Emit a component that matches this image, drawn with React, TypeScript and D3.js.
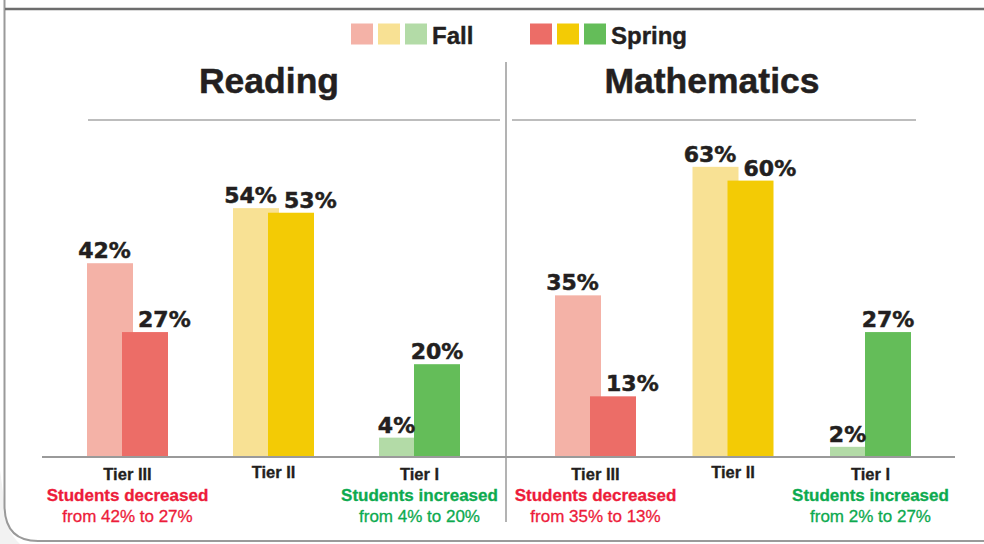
import React from "react";
import * as d3 from "d3";

const tiers = ["Tier III", "Tier II", "Tier I"];
const readingFall = [42, 54, 4];
const readingSpring = [27, 53, 20];
const mathFall = [35, 63, 2];
const mathSpring = [13, 60, 27];
const seriesNames = ["Fall", "Spring"];
const fallColors = ["#F4B2A7", "#F8E194", "#B3DBA7"];
const springColors = ["#EC6D67", "#F3CB05", "#64BD59"];
const panelTitles = ["Reading", "Mathematics"];
const changeNotes = ["Students decreased", "", "Students increased"];
const noteColors = ["#ED1C3A", "#231F20", "#0DAA4F"];

const W = 984;
const H = 544;
const BASE = 456;
const BAR_W = 46;
const OFFSET = 35;
const DARK = "#231F20";
const SANS = "'Liberation Sans', Arial, sans-serif";
const VAL = "'DejaVu Sans', Verdana, sans-serif";

const y = d3.scaleLinear().domain([0, 70]).range([BASE, BASE - 70 * 4.59]);

const panels = [
  { title: panelTitles[0], fall: readingFall, spring: readingSpring, range: [127.5, 419.5], titleX: 269, rule: [88, 500] },
  { title: panelTitles[1], fall: mathFall, spring: mathSpring, range: [595.5, 870.5], titleX: 712, rule: [512, 916] },
];

function Panel({ p }: { p: any }) {
  const x = d3.scalePoint<string>().domain(tiers).range(p.range);
  return (
    <g>
      <text x={p.titleX} y={93} textAnchor="middle" fontFamily={SANS} fontWeight="bold" fontSize={35.5} fill={DARK} stroke={DARK} strokeWidth={0.5}>
        {p.title}
      </text>
      <line x1={p.rule[0]} x2={p.rule[1]} y1={120} y2={120} stroke="#A7A7A7" strokeWidth={1.5} />
      {tiers.map((t, i) => {
        const cx = x(t) as number;
        const fx = cx - (BAR_W + OFFSET) / 2;
        const sx = fx + OFFSET;
        const fv = p.fall[i];
        const sv = p.spring[i];
        const fLabelX = (fx + sx) / 2;
        const sLabelX = i < 2 ? sx + 16 : sx + BAR_W / 2;
        const sAnchor = i < 2 ? "start" : "middle";
        return (
          <g key={t}>
            <rect x={fx} y={y(fv)} width={BAR_W} height={BASE - y(fv)} fill={fallColors[i]} />
            <rect x={sx} y={y(sv)} width={BAR_W} height={BASE - y(sv)} fill={springColors[i]} />
            <text x={fLabelX} y={y(fv) - 5} textAnchor="middle" fontFamily={VAL} fontWeight="bold" fontSize={22} fill={DARK} stroke={DARK} strokeWidth={0.5}>
              {fv}%
            </text>
            <text x={sLabelX} y={y(sv) - 5} textAnchor={sAnchor} fontFamily={VAL} fontWeight="bold" fontSize={22} fill={DARK} stroke={DARK} strokeWidth={0.5}>
              {sv}%
            </text>
            <text x={cx} y={i === 1 ? 478 : 480} textAnchor="middle" fontFamily={SANS} fontWeight="bold" fontSize={16.5} fill={DARK} stroke={DARK} strokeWidth={0.3}>
              {t}
            </text>
            {changeNotes[i] && (
              <>
                <text x={cx} y={501} textAnchor="middle" fontFamily={SANS} fontWeight="bold" fontSize={17} fill={noteColors[i]} stroke={noteColors[i]} strokeWidth={0.3}>
                  {changeNotes[i]}
                </text>
                <text x={cx} y={522} textAnchor="middle" fontFamily={SANS} fontSize={17} fill={noteColors[i]} stroke={noteColors[i]} strokeWidth={0.3}>
                  {`from ${fv}% to ${sv}%`}
                </text>
              </>
            )}
          </g>
        );
      })}
    </g>
  );
}

export default function App() {
  const legendGroups = [
    { name: seriesNames[0], colors: fallColors, x: 351 },
    { name: seriesNames[1], colors: springColors, x: 530 },
  ];
  return (
    <svg width={W} height={H} style={{ position: "absolute", left: 0, top: 0 }}>
      <rect width={W} height={H} fill="#fff" />
      <path d="M0,470 V544 H20 Q4,530 4,500 Z" fill="#F2F2F2" />
      <path d="M4.5,0 V505 Q4.5,541 38,541 H984" fill="none" stroke="#9A9A9A" strokeWidth={2} />
      <line x1={5} x2={984} y1={9} y2={9} stroke="#6D6D6D" strokeWidth={2.5} />
      {legendGroups.map((g) => (
        <g key={g.name}>
          {g.colors.map((c, i) => (
            <rect key={c} x={g.x + i * 27} y={23.5} width={22} height={21} fill={c} />
          ))}
          <text x={g.x + 3 * 27} y={43.5} fontFamily={SANS} fontWeight="bold" fontSize={24} fill={DARK} stroke={DARK} strokeWidth={0.4}>
            {g.name}
          </text>
        </g>
      ))}
      <line x1={506} x2={506} y1={62} y2={522} stroke="#9A9A9A" strokeWidth={1.5} />
      <line x1={42} x2={955} y1={BASE + 1} y2={BASE + 1} stroke="#9A9A9A" strokeWidth={2} />
      {panels.map((p) => (
        <Panel key={p.title} p={p} />
      ))}
    </svg>
  );
}
